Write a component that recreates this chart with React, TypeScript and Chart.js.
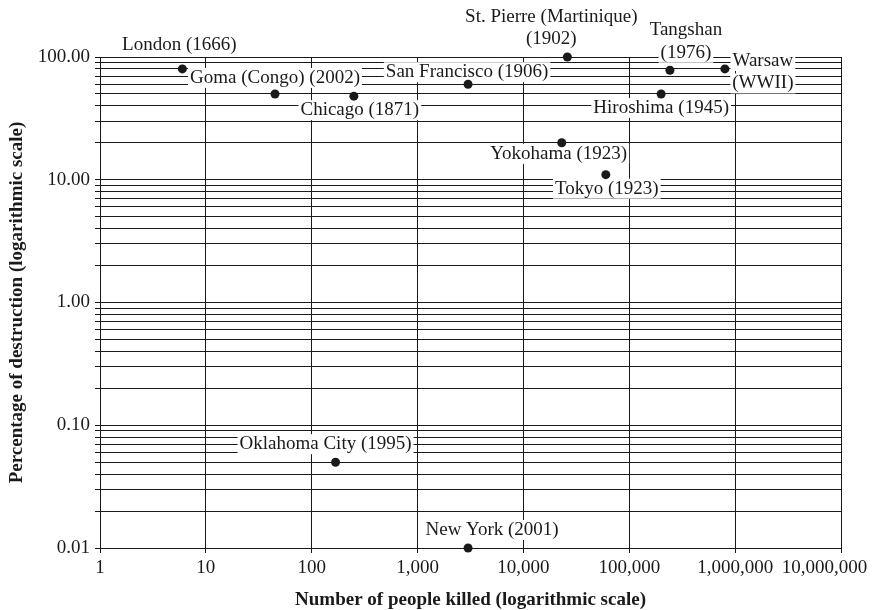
import React, { useEffect, useRef } from 'react';
import { Chart, registerables } from 'chart.js';

Chart.register(...registerables);

// ---- Data ----
const cityLabels: string[][] = [
  ['London (1666)'],
  ['Goma (Congo) (2002)'],
  ['Chicago (1871)'],
  ['San Francisco (1906)'],
  ['St. Pierre (Martinique)', '(1902)'],
  ['Tangshan', '(1976)'],
  ['Warsaw', '(WWII)'],
  ['Hiroshima (1945)'],
  ['Yokohama (1923)'],
  ['Tokyo (1923)'],
  ['Oklahoma City (1995)'],
  ['New York (2001)'],
];
const peopleKilled = [6, 45, 250, 3000, 26000, 242000, 800000, 200000, 23000, 60000, 168, 3000];
const pctDestruction = [80, 50, 48, 60, 100, 78, 80, 50, 20, 11, 0.05, 0.01];

// label placement relative to the point (text centre of first line, px)
const labelDx = [-3, 0, 6, -1, -16, 16, 38, 0, -3, 1, -10, 24];
const labelDy = [-24, -16, 14, -12, -40, -40, -8, 14, 11, 14, -18, -18];

const xTickValues = [1, 10, 100, 1000, 10000, 100000, 1000000, 10000000];
const xTickLabels = ['1', '10', '100', '1,000', '10,000', '100,000', '1,000,000', '10,000,000'];
const yMajorValues = [0.01, 0.1, 1, 10, 100];
const yMajorLabels = ['0.01', '0.10', '1.00', '10.00', '100.00'];
const yMinorMultipliers = [1, 2, 3, 4, 5, 6, 7, 8, 9];

const FONT = '"Liberation Serif", "Times New Roman", serif';
const INK = '#1a1a1a';

const labelPlugin = {
  id: 'cityLabels',
  beforeDatasetsDraw(chart: any) {
    const ctx = chart.ctx;
    const meta = chart.getDatasetMeta(0);
    ctx.save();
    ctx.font = `19px ${FONT}`;
    ctx.textAlign = 'center';
    ctx.textBaseline = 'middle';
    meta.data.forEach((pt: any, i: number) => {
      const lines = cityLabels[i];
      const cx = pt.x + labelDx[i];
      lines.forEach((line, k) => {
        const cy = pt.y + labelDy[i] + k * 22.5;
        const w = ctx.measureText(line).width;
        ctx.fillStyle = '#ffffff';
        ctx.fillRect(cx - w / 2 - 2, cy - 10, w + 4, 20);
        ctx.fillStyle = INK;
        ctx.fillText(line, cx, cy);
      });
    });
    ctx.restore();
  },
};

export default function App() {
  const ref = useRef<HTMLCanvasElement | null>(null);

  useEffect(() => {
    if (!ref.current) return;
    const chart = new Chart(ref.current, {
      type: 'scatter',
      data: {
        datasets: [
          {
            data: peopleKilled.map((k, i) => ({ x: k, y: pctDestruction[i] })),
            backgroundColor: INK,
            borderWidth: 0,
            pointRadius: 4.5,
            pointHoverRadius: 4.5,
            clip: false as any,
          },
        ],
      },
      options: {
        responsive: false,
        animation: false,
        events: [],
        layout: { padding: { top: 57, right: 34, left: 0, bottom: 0 } },
        plugins: { legend: { display: false }, tooltip: { enabled: false } },
        scales: {
          x: {
            type: 'logarithmic',
            position: 'bottom',
            min: 1,
            max: 10000000,
            afterBuildTicks: (s: any) => {
              s.ticks = xTickValues.map((v) => ({ value: v }));
            },
            afterFit: (s: any) => {
              s.height = 62;
              s.paddingLeft = 0;
              s.paddingRight = 0;
            },
            grid: { color: INK, lineWidth: 1, tickLength: 5, drawTicks: true },
            border: { color: INK, width: 1 },
            ticks: {
              autoSkip: false,
              maxRotation: 0,
              minRotation: 0,
              padding: 4,
              color: INK,
              font: { family: FONT, size: 19 },
              callback: (_v: any, i: number) =>
                i === xTickLabels.length - 1
                  ? xTickLabels[i] + '\u00a0'.repeat(7)
                  : xTickLabels[i],
            },
            title: {
              display: true,
              text: 'Number of people killed (logarithmic scale)',
              color: INK,
              font: { family: FONT, size: 19, weight: 'bold', lineHeight: 1 },
              padding: 0,
            },
          },
          y: {
            type: 'logarithmic',
            position: 'left',
            min: 0.01,
            max: 100,
            afterBuildTicks: (s: any) => {
              const t: any[] = [];
              yMajorValues.forEach((m, mi) => {
                if (mi === yMajorValues.length - 1) {
                  t.push({ value: m });
                } else {
                  yMinorMultipliers.forEach((f) => t.push({ value: m * f }));
                }
              });
              s.ticks = t;
            },
            afterFit: (s: any) => {
              s.width = 100;
              s.paddingTop = 0;
              s.paddingBottom = 0;
            },
            grid: { color: INK, lineWidth: 1, tickLength: 5, drawTicks: true },
            border: { color: INK, width: 1 },
            ticks: {
              autoSkip: false,
              padding: 5,
              color: INK,
              font: { family: FONT, size: 19 },
              callback: (v: any) => {
                const val = Number(v);
                const idx = yMajorValues.findIndex(
                  (m) => Math.abs(Math.log10(val) - Math.log10(m)) < 1e-6
                );
                return idx >= 0 ? yMajorLabels[idx] : '';
              },
            },
            title: {
              display: true,
              text: 'Percentage of destruction (logarithmic scale)',
              color: INK,
              font: { family: FONT, size: 19, weight: 'bold', lineHeight: 1 },
              padding: { top: 8, bottom: 0 },
            },
          },
        },
      } as any,
      plugins: [labelPlugin],
    });
    return () => chart.destroy();
  }, []);

  return (
    <div style={{ position: 'fixed', left: 0, top: 0, width: 875, height: 610, background: '#fff' }}>
      <canvas ref={ref} width={875} height={610} style={{ width: 875, height: 610, display: 'block' }} />
    </div>
  );
}
